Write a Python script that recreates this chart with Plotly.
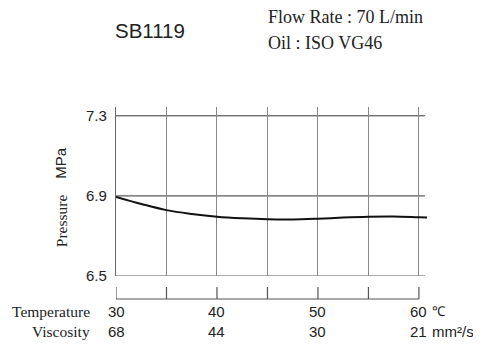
import plotly.graph_objects as go

# data
temperature = [30, 32.5, 35, 37.5, 40, 42.5, 45, 47.5, 50, 52.5, 55, 57.5, 60, 60.8]
pressure = [6.895, 6.86, 6.829, 6.81, 6.796, 6.788, 6.783, 6.782, 6.786, 6.792, 6.796, 6.797, 6.793, 6.792]

grid_temps = [30, 35, 40, 45, 50, 55, 60]
label_temps = [30, 40, 50, 60]
viscosity = ["68", "44", "30", "21"]
pressure_ticks = [6.5, 6.9, 7.3]

SANS = "Liberation Sans, Arial, sans-serif"
SERIF = "Liberation Serif, Times New Roman, serif"
TXT = "#222222"

fig = go.Figure()

fig.add_trace(go.Scatter(
    x=temperature, y=pressure, mode="lines",
    line=dict(color="#111111", width=2, shape="spline"),
    showlegend=False, hoverinfo="skip",
))

shapes = []
# horizontal grid lines
for p in pressure_ticks:
    shapes.append(dict(type="line", xref="x", yref="y", x0=30, x1=60.6, y0=p, y1=p,
                       line=dict(color="#333333" if p != 6.5 else "#555555", width=1), layer="below"))
# separate temperature scale below the plot
shapes.append(dict(type="line", xref="x", yref="paper", x0=grid_temps[0], x1=grid_temps[-1],
                   y0=-0.136, y1=-0.136, line=dict(color="#555555", width=1.2)))
for t in grid_temps:
    shapes.append(dict(type="line", xref="x", yref="paper", x0=t, x1=t, y0=-0.136, y1=-0.065,
                       line=dict(color="#555555", width=1.2)))

annotations = []
for t, v in zip(label_temps, viscosity):
    annotations.append(dict(x=t, y=-0.213, xref="x", yref="paper", text=str(t), showarrow=False,
                            xanchor="center", yanchor="middle", font=dict(family=SANS, size=15, color=TXT)))
    annotations.append(dict(x=t, y=-0.331, xref="x", yref="paper", text=v, showarrow=False,
                            xanchor="center", yanchor="middle", font=dict(family=SANS, size=15, color=TXT)))

annotations += [
    dict(x=-0.077, y=-0.213, xref="paper", yref="paper", text="Temperature", showarrow=False,
         xanchor="right", yanchor="middle", font=dict(family=SERIF, size=15.5, color=TXT)),
    dict(x=-0.077, y=-0.331, xref="paper", yref="paper", text="Viscosity", showarrow=False,
         xanchor="right", yanchor="middle", font=dict(family=SERIF, size=15.5, color=TXT)),
    dict(x=1.011, y=-0.208, xref="paper", yref="paper", text="℃", showarrow=False,
         xanchor="left", yanchor="middle", font=dict(family=SANS, size=13.5, color=TXT)),
    dict(x=1.01, y=-0.331, xref="paper", yref="paper", text="mm²/s", showarrow=False,
         xanchor="left", yanchor="middle", font=dict(family=SANS, size=15, color=TXT)),
    dict(x=-0.177, y=0.67, xref="paper", yref="paper", text="MPa", showarrow=False, textangle=-90,
         xanchor="center", yanchor="middle", font=dict(family=SANS, size=15, color=TXT)),
    dict(x=-0.177, y=0.33, xref="paper", yref="paper", text="Pressure", showarrow=False, textangle=-90,
         xanchor="center", yanchor="middle", font=dict(family=SERIF, size=15.5, color=TXT)),
    dict(x=0.109, y=1.45, xref="paper", yref="paper", text="SB1119", showarrow=False,
         xanchor="center", yanchor="middle", font=dict(family=SANS, size=20.5, color=TXT)),
    dict(x=0.482, y=1.53, xref="paper", yref="paper", text="Flow Rate : 70 L/min", showarrow=False,
         xanchor="left", yanchor="middle", font=dict(family=SERIF, size=18, color=TXT)),
    dict(x=0.482, y=1.379, xref="paper", yref="paper", text="Oil : ISO VG46", showarrow=False,
         xanchor="left", yanchor="middle", font=dict(family=SERIF, size=18, color=TXT)),
]

# the page body adds an 8px offset, so the figure is 8px smaller and margins shifted
fig.update_layout(
    width=473, height=343,
    margin=dict(l=108, r=54, t=99, b=75),
    paper_bgcolor="white", plot_bgcolor="white",
    shapes=shapes, annotations=annotations,
    xaxis=dict(range=[30, 60.8], tickvals=grid_temps, showticklabels=False, ticks="",
               showgrid=True, gridcolor="#888888", gridwidth=1.2, zeroline=False, showline=False),
    yaxis=dict(range=[6.5, 7.344], tickvals=pressure_ticks, ticktext=[str(p) for p in pressure_ticks],
               ticks="", ticklabelstandoff=5, showgrid=False, zeroline=False,
               showline=True, linecolor="#666666", linewidth=1.2,
               tickfont=dict(family=SANS, size=15, color=TXT)),
)

fig.write_html("out.html")
